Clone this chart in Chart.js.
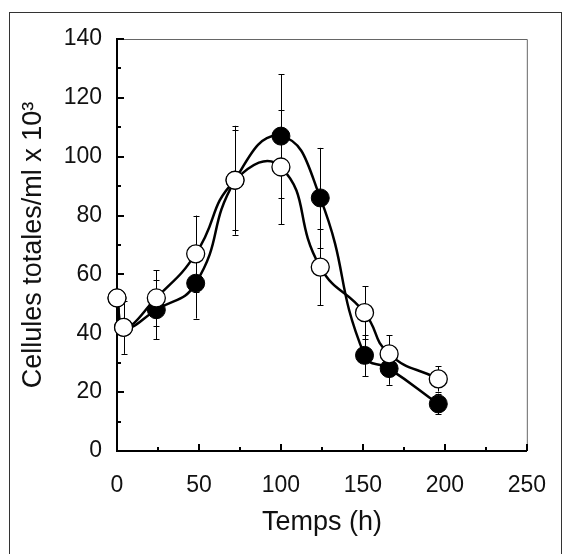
<!DOCTYPE html>
<html>
<head>
<meta charset="utf-8">
<script src="https://cdn.jsdelivr.net/npm/chart.js@4/dist/chart.umd.min.js"></script>
<style>
  html, body { margin: 0; padding: 0; background: #fff; overflow: hidden; }
  #wrap { position: relative; width: 567px; height: 554px; }
  #frame { position: absolute; left: 9px; top: 12px; width: 551px; height: 600px;
           border: 1px solid #333; pointer-events: none; }
</style>
</head>
<body>
<div id="wrap">
  <canvas id="cellsChart" width="567" height="554"></canvas>
  <div id="frame"></div>
</div>
<script>
// time points (h)
const times = [0, 4, 24, 48, 72, 100, 124, 151, 166, 196];
// filled circles
const filledVals = [52, 42, 48, 57, 92, 107, 86, 32.5, 28, 16];
const filledErr  = [0, 0, 10, 12, 17, 21, 17, 7, 5.5, 3.5];
// open circles
const openVals = [52, 42, 52, 67, 92, 96.5, 62.5, 47, 33, 24.5];
const openErr  = [0, 9, 9.5, 13, 18.5, 19.5, 13, 9, 6.3, 4.3];

const toPoints = (vals) => vals.map((v, i) => ({ x: times[i], y: v }));

const FONT = "'Liberation Sans', Arial, sans-serif";

// error bars, drawn under the lines and markers
const errorBars = {
  id: "errorBars",
  beforeDatasetsDraw(chart) {
    const { ctx, scales: { x, y } } = chart;
    ctx.save();
    ctx.strokeStyle = "#000";
    ctx.lineWidth = 1;
    chart.data.datasets.forEach((ds) => {
      ds.errors.forEach((e, i) => {
        if (!e) return;
        const px = Math.round(x.getPixelForValue(ds.data[i].x)) + 0.5;
        const top = y.getPixelForValue(ds.data[i].y + e);
        const bot = y.getPixelForValue(ds.data[i].y - e);
        ctx.beginPath();
        ctx.moveTo(px, top); ctx.lineTo(px, bot);
        ctx.moveTo(px - 3, Math.round(top) + 0.5); ctx.lineTo(px + 3, Math.round(top) + 0.5);
        ctx.moveTo(px - 3, Math.round(bot) + 0.5); ctx.lineTo(px + 3, Math.round(bot) + 0.5);
        ctx.stroke();
      });
    });
    ctx.restore();
  },
};

// box on top/right and tick marks pointing inside the plot
const innerTicks = {
  id: "innerTicks",
  beforeDatasetsDraw(chart) {
    const { ctx, chartArea: a, scales: { x, y } } = chart;
    ctx.save();
    ctx.strokeStyle = "#666";
    ctx.lineWidth = 1;
    ctx.beginPath();
    ctx.moveTo(a.left, a.top + 0.5); ctx.lineTo(a.right + 0.5, a.top + 0.5);
    ctx.lineTo(a.right + 0.5, a.bottom);
    ctx.stroke();
    ctx.strokeStyle = "#000";
    ctx.lineWidth = 2;
    ctx.beginPath();
    x.ticks.forEach((t) => {
      const px = Math.round(x.getPixelForValue(t.value));
      const len = t.value % 50 === 0 ? 7 : 4;
      ctx.moveTo(px, a.bottom); ctx.lineTo(px, a.bottom - len);
    });
    y.ticks.forEach((t) => {
      const py = Math.round(y.getPixelForValue(t.value));
      const len = t.value % 20 === 0 ? 7 : 4;
      ctx.moveTo(a.left, py); ctx.lineTo(a.left + len, py);
    });
    ctx.stroke();
    ctx.restore();
  },
};

const ctx = document.getElementById("cellsChart").getContext("2d");
new Chart(ctx, {
  type: "line",
  data: {
    datasets: [
      {
        label: "open",
        data: toPoints(openVals),
        errors: openErr,
        borderColor: "#000",
        borderWidth: 2.5,
        tension: 0.5,
        pointRadius: 9,
        pointBorderWidth: 1.3,
        pointBackgroundColor: "#fff",
        pointBorderColor: "#000",
        clip: false,
      },
      {
        label: "filled",
        data: toPoints(filledVals),
        errors: filledErr,
        borderColor: "#000",
        borderWidth: 2.5,
        tension: 0.5,
        pointRadius: 9,
        pointBorderWidth: 1,
        pointBackgroundColor: "#000",
        pointBorderColor: "#000",
        clip: false,
      },
    ],
  },
  options: {
    responsive: false,
    animation: false,
    layout: { padding: { left: 0, top: 39, right: 39, bottom: 0 } },
    plugins: {
      legend: { display: false },
      tooltip: { enabled: false },
    },
    scales: {
      x: {
        type: "linear",
        min: 0,
        max: 250,
        grid: { display: false, drawTicks: false },
        border: { color: "#000", width: 2 },
        afterFit: (scale) => { scale.height = 103; },
        ticks: {
          stepSize: 25,
          padding: 21,
          color: "#111",
          font: { family: FONT, size: 23 },
          maxRotation: 0,
          autoSkip: false,
          callback: (v) => (v % 50 === 0 ? v : ""),
        },
        title: {
          display: true,
          text: "Temps (h)",
          color: "#111",
          font: { family: FONT, size: 27 },
          padding: { top: 0, bottom: 15 },
        },
      },
      y: {
        min: 0,
        max: 140,
        grid: { display: false, drawTicks: false },
        border: { color: "#000", width: 2 },
        afterFit: (scale) => { scale.width = 117; },
        ticks: {
          stepSize: 10,
          padding: 15,
          color: "#111",
          font: { family: FONT, size: 23 },
          autoSkip: false,
          callback: (v) => (v % 20 === 0 ? v : ""),
        },
        title: {
          display: true,
          text: "Cellules totales/ml x 10³",
          color: "#111",
          font: { family: FONT, size: 27 },
          padding: { top: 17, bottom: 0 },
        },
      },
    },
  },
  plugins: [errorBars, innerTicks],
});
</script>
</body>
</html>
